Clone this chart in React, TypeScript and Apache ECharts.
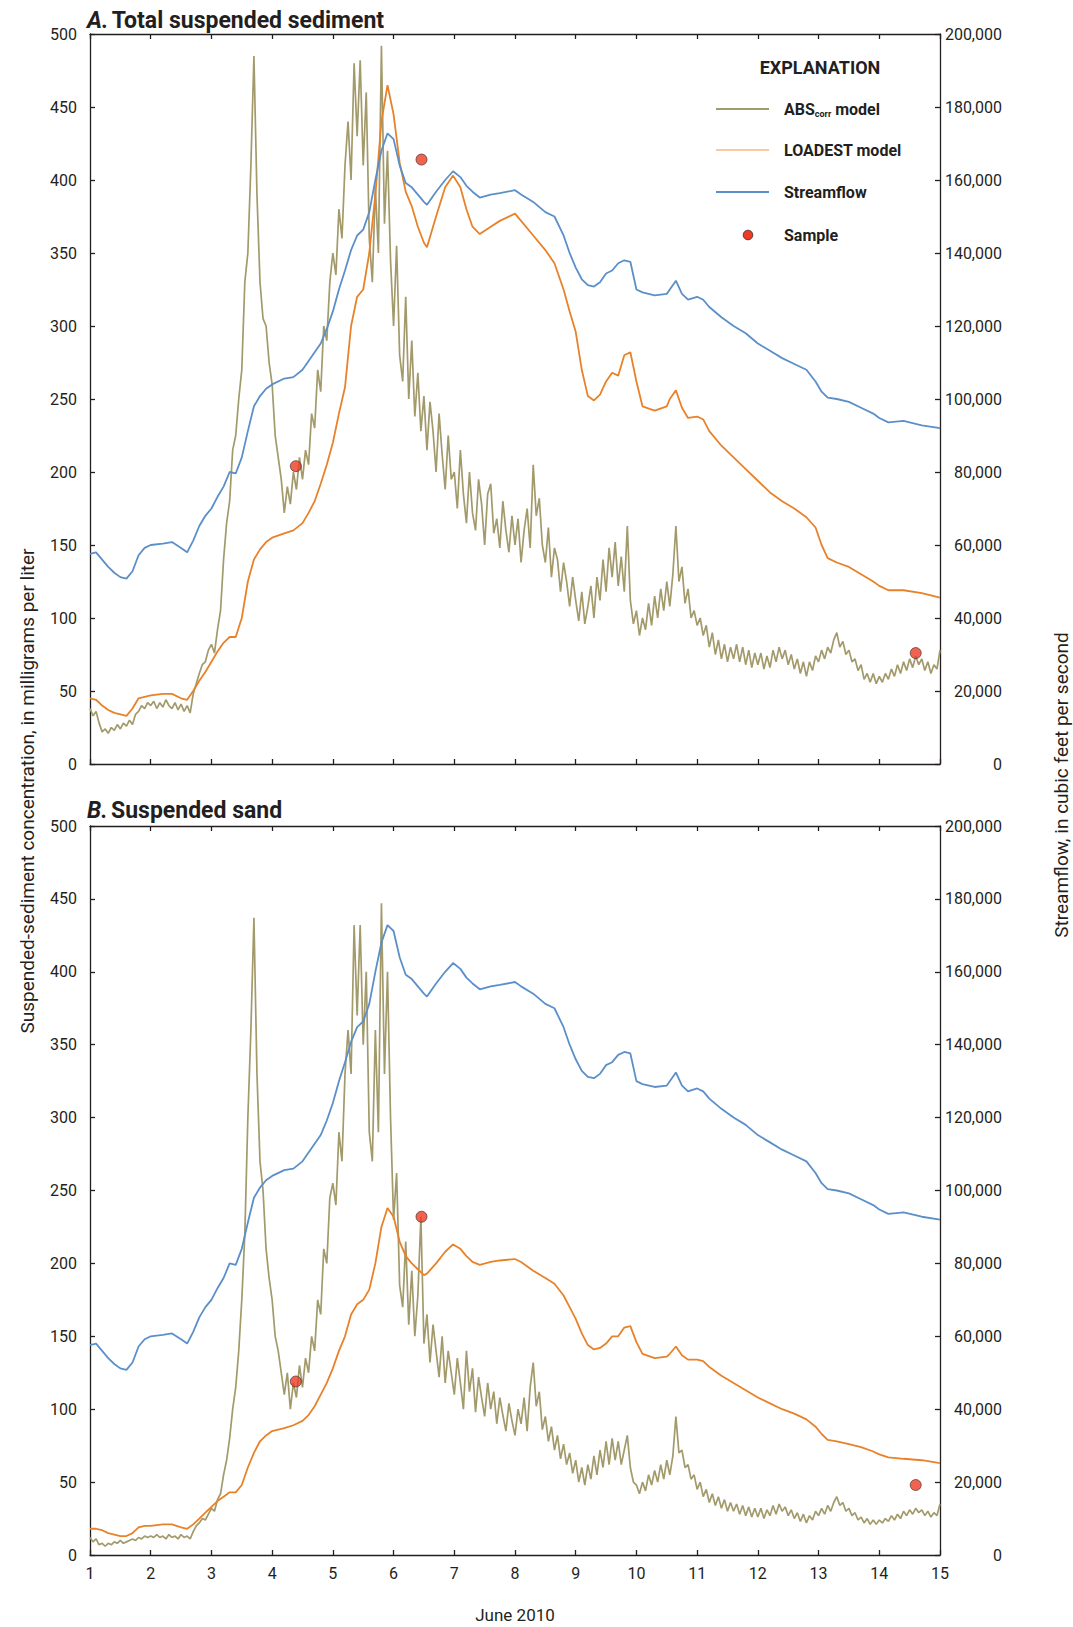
import React, { useEffect, useRef } from "react";
import * as echarts from "echarts";

const FONT = "Roboto, 'Liberation Sans', sans-serif";
const INK = "#231f20";
const C_ABS = "#a39a6b";
const C_LOAD = "#e8822a";
const C_LOAD_LEG = "#f9c9a3";
const C_FLOW = "#5b8fc9";
const C_SAMPLE = "#ee3b24";

// x tick labels (days of June 2010)
const dayTicks = [1, 2, 3, 4, 5, 6, 7, 8, 9, 10, 11, 12, 13, 14, 15];

// ABScorr model readings, every 0.05 day starting June 1
const absStartDay = 1;
const absStepDays = 0.05;

const absTotal = [
  38, 33, 36, 28, 22, 24, 21, 25, 23, 27, 24, 28, 26, 30, 27, 34, 36, 40, 38, 42,
  40, 43, 38, 42, 39, 44, 40, 38, 42, 37, 41, 36, 40, 35, 48, 55, 62, 68, 70, 78,
  82, 76, 92, 105, 140, 165, 180, 215, 225, 250, 270, 330, 350, 410, 485, 390, 330, 305, 300, 275,
  260, 225, 210, 195, 172, 190, 178, 200, 188, 210, 195, 215, 205, 240, 230, 270, 255, 300, 290, 330,
  350, 335, 380, 360, 410, 440, 400, 480, 430, 482, 410, 460, 360, 330, 395, 350, 492, 370, 420, 345,
  300, 355, 280, 262, 320, 250, 290, 238, 268, 228, 252, 215, 248, 228, 200, 240, 212, 188, 225, 195,
  200, 175, 215, 185, 165, 200, 172, 160, 195, 178, 150, 185, 192, 158, 168, 148, 180, 160, 145, 170,
  150, 168, 138, 160, 175, 148, 205, 170, 182, 150, 138, 162, 128, 148, 140, 118, 138, 125, 108, 128,
  112, 98, 118, 96, 108, 122, 100, 128, 112, 140, 118, 148, 128, 152, 122, 142, 118, 163, 112, 96,
  105, 88, 100, 92, 110, 95, 115, 100, 120, 105, 125, 108, 130, 163, 125, 135, 110, 120, 100, 105,
  95, 100, 88, 95, 80, 90, 75, 85, 72, 82, 70, 80, 72, 82, 70, 80, 68, 78, 66, 76,
  68, 76, 65, 74, 66, 78, 70, 80, 72, 78, 68, 75, 65, 72, 62, 70, 60, 70, 64, 74,
  70, 78, 72, 80, 76, 85, 90, 80, 84, 75, 78, 70, 72, 64, 68, 58, 62, 56, 62, 55,
  60, 56, 62, 58, 65, 60, 68, 62, 70, 64, 72, 66, 74, 68, 72, 64, 70, 62, 68, 65,
  78,
];

const absSand = [
  12, 9, 11, 7, 8, 6, 8, 7, 9, 8, 10, 8, 9, 10, 11, 10, 12, 11, 13, 12,
  13, 12, 14, 12, 13, 11, 14, 12, 13, 11, 14, 12, 13, 11, 16, 20, 22, 25, 24, 28,
  32, 30, 38, 42, 55, 65, 80, 100, 115, 140, 175, 220, 300, 360, 437, 330, 270, 250, 210, 190,
  175, 150, 140, 125, 110, 125, 100, 118, 108, 130, 115, 135, 125, 150, 140, 175, 165, 210, 200, 245,
  255, 240, 290, 270, 330, 360, 330, 432, 370, 432, 350, 400, 290, 270, 360, 290, 447, 330, 400, 300,
  230, 262, 185, 170, 215, 158, 195, 150, 178, 232, 145, 165, 132, 158, 140, 122, 150, 118, 140, 125,
  110, 135, 118, 100, 140, 112, 128, 98, 122, 108, 95, 118, 100, 112, 90, 108, 96, 85, 104, 92,
  82, 100, 90, 108, 85, 115, 132, 102, 112, 86, 95, 78, 88, 72, 82, 66, 76, 62, 70, 56,
  65, 50, 60, 48, 62, 52, 68, 55, 72, 60, 78, 62, 80, 65, 78, 62, 72, 82, 60, 50,
  48, 42, 50, 44, 55, 48, 58, 50, 62, 52, 65, 55, 68, 95, 70, 72, 60, 62, 52, 55,
  45, 50, 40, 45, 36, 42, 34, 40, 32, 38, 30, 36, 30, 35, 28, 34, 27, 33, 26, 32,
  26, 32, 25, 31, 27, 34, 28, 35, 30, 33, 27, 31, 25, 29, 23, 28, 22, 27, 24, 30,
  27, 32, 28, 34, 30, 36, 40, 34, 36, 30, 32, 27, 29, 24, 26, 22, 25, 21, 24, 21,
  24, 22, 25, 23, 27, 24, 28, 25, 30, 27, 31, 28, 32, 29, 31, 27, 30, 26, 29, 27,
  35,
];

// Days at which the smoother LOADEST and streamflow curves were read
const modelDays = [
  1.0, 1.1, 1.2, 1.3, 1.4, 1.5, 1.6, 1.7, 1.8, 1.9,
  2.0, 2.2, 2.35, 2.5, 2.6, 2.7, 2.8, 2.9,
  3.0, 3.1, 3.2, 3.3, 3.4, 3.5, 3.6, 3.7, 3.8, 3.9,
  4.0, 4.2, 4.35, 4.5, 4.6, 4.7, 4.8, 4.9,
  5.0, 5.1, 5.2, 5.3, 5.4, 5.5, 5.6, 5.7, 5.8, 5.9,
  6.0, 6.1, 6.2, 6.3, 6.4, 6.5, 6.55, 6.7, 6.85, 6.98,
  7.1, 7.2, 7.3, 7.42, 7.6, 7.75,
  8.0, 8.1, 8.3, 8.5, 8.65, 8.8, 8.9,
  9.0, 9.1, 9.2, 9.3, 9.4, 9.5, 9.6, 9.7, 9.8, 9.9,
  10.0, 10.1, 10.3, 10.5, 10.55, 10.65, 10.75, 10.85,
  11.0, 11.1, 11.2, 11.4, 11.6, 11.8,
  12.0, 12.2, 12.4, 12.6, 12.8, 12.95,
  13.05, 13.15, 13.3, 13.5, 13.7, 13.9,
  14.0, 14.15, 14.4, 14.7, 15.0,
];

const streamflow = [
  57600, 58000, 56000, 54000, 52400, 51200, 50800, 52800, 57200, 59200,
  60000, 60400, 60800, 59200, 58000, 61200, 65200, 68000,
  70000, 73200, 76000, 80000, 79600, 84000, 91200, 98000, 100800, 102800,
  104000, 105600, 106000, 108000, 110400, 112800, 115200, 119200,
  124000, 130000, 135200, 140800, 144800, 146400, 151200, 160000, 168000, 172800,
  171200, 164000, 159200, 158000, 156000, 154000, 153200, 156800, 160000, 162400,
  160800, 158400, 156800, 155200, 156000, 156400,
  157200, 156000, 154000, 151200, 150000, 144800, 140000,
  136000, 132800, 131200, 130800, 132000, 134400, 135200, 137200, 138000, 137600,
  130000, 129200, 128400, 128800, 130000, 132400, 128800, 127200,
  128000, 127200, 125200, 122400, 120000, 118000,
  115200, 113200, 111200, 109600, 108000, 104800,
  102000, 100400, 100000, 99200, 97600, 96000,
  94800, 93600, 94000, 92800, 92000,
];

const loadestTotal = [
  45, 44, 40, 37, 35, 34, 33, 38, 45, 46,
  47, 48, 48, 45, 44, 50, 57, 63,
  70, 77, 83, 87, 87, 100, 125, 140, 147, 152,
  155, 158, 160, 165, 172, 180, 192, 205,
  220, 240, 258, 300, 320, 325, 350, 390, 440, 465,
  445, 412, 392, 382, 368, 357, 354, 375, 395, 403,
  395, 380, 368, 363, 368, 372,
  377, 372, 362, 352, 343, 325, 310,
  296, 270, 252, 249, 253, 262, 268, 266, 280, 282,
  262, 245, 242, 245, 250, 256, 244, 237,
  238, 236, 228, 218, 210, 202,
  194, 186, 180, 175, 169, 162,
  150, 141, 138, 135, 130, 125,
  122, 119, 119, 117, 114,
];

const loadestSand = [
  18, 18, 17, 15, 14, 13, 13, 15, 19, 20,
  20, 21, 21, 19, 18, 21, 25, 29,
  33, 37, 40, 43, 43, 48, 60, 70, 78, 82,
  85, 87, 89, 92, 96, 102, 110, 118,
  128, 140, 150, 165, 172, 175, 182, 200, 225, 238,
  232, 215, 205, 200, 196, 192, 193, 200, 208, 213,
  210, 205, 201, 199, 201, 202,
  203, 201, 195, 190, 186, 178, 170,
  162, 152, 144, 141, 142, 145, 150, 150, 156, 157,
  146, 138, 135, 136, 138, 143, 137, 134,
  134, 133, 129, 123, 118, 113,
  108, 104, 100, 97, 93, 88,
  83, 79, 78, 76, 74, 71,
  69, 67, 66, 65, 63,
];

const sampleDays = [4.39, 6.46, 14.6];
const sampleTotal = [204, 414, 76];
const sampleSand = [119, 232, 48];

const pairs = (xs: number[], ys: number[]) => ys.map((y, i) => [xs[i], y]);
const absPairs = (ys: number[]) => ys.map((y, i) => [absStartDay + i * absStepDays, y]);

const GRID_LEFT = 90;
const GRID_W = 850;
const GRIDS = [
  { left: GRID_LEFT, top: 34, width: GRID_W, height: 730 },
  { left: GRID_LEFT, top: 826, width: GRID_W, height: 729 },
];

const lineStyle = { color: INK, width: 1.3 };

function xAxis(gridIndex: number, position: "top" | "bottom", labels: boolean) {
  return {
    type: "value",
    gridIndex,
    position,
    min: 1,
    max: 15,
    interval: 1,
    axisLine: { show: true, onZero: false, lineStyle },
    axisTick: { show: true, inside: true, length: 5, lineStyle },
    splitLine: { show: false },
    axisLabel: {
      show: labels,
      margin: 10,
      fontFamily: FONT,
      fontSize: 16,
      color: INK,
      formatter: (v: number) => (dayTicks.includes(v) ? String(v) : ""),
    },
  };
}

function yLeft(gridIndex: number) {
  return {
    type: "value",
    gridIndex,
    position: "left",
    min: 0,
    max: 500,
    interval: 50,
    axisLine: { show: true, lineStyle },
    axisTick: { show: true, inside: true, length: 5, lineStyle },
    splitLine: { show: false },
    axisLabel: { margin: 13, fontFamily: FONT, fontSize: 16, color: INK },
  };
}

function yRight(gridIndex: number) {
  return {
    type: "value",
    gridIndex,
    position: "right",
    min: 0,
    max: 200000,
    interval: 20000,
    axisLine: { show: true, lineStyle },
    axisTick: { show: true, inside: true, length: 5, lineStyle },
    splitLine: { show: false },
    axisLabel: {
      margin: 62,
      align: "right",
      fontFamily: FONT,
      fontSize: 16,
      color: INK,
      formatter: (v: number) => v.toLocaleString("en-US"),
    },
  };
}

function panelSeries(p: number, abs: number[], loadest: number[], samples: number[]) {
  const xi = p * 2;
  const yl = p * 2;
  const yr = p * 2 + 1;
  return [
    {
      type: "line",
      name: "ABScorr model",
      xAxisIndex: xi,
      yAxisIndex: yl,
      data: absPairs(abs),
      showSymbol: false,
      lineStyle: { color: C_ABS, width: 1.7 },
      itemStyle: { color: C_ABS },
      z: 2,
    },
    {
      type: "line",
      name: "LOADEST model",
      xAxisIndex: xi,
      yAxisIndex: yl,
      data: pairs(modelDays, loadest),
      showSymbol: false,
      lineStyle: { color: C_LOAD, width: 1.8 },
      itemStyle: { color: C_LOAD },
      z: 3,
    },
    {
      type: "line",
      name: "Streamflow",
      xAxisIndex: xi,
      yAxisIndex: yr,
      data: pairs(modelDays, streamflow),
      showSymbol: false,
      lineStyle: { color: C_FLOW, width: 1.8 },
      itemStyle: { color: C_FLOW },
      z: 4,
    },
    {
      type: "scatter",
      name: "Sample",
      xAxisIndex: xi,
      yAxisIndex: yl,
      data: pairs(sampleDays, samples),
      symbol: "circle",
      symbolSize: 11,
      itemStyle: { color: C_SAMPLE, borderColor: "#3a2a26", borderWidth: 0.8 },
      z: 5,
    },
  ];
}

const boldText = (x: number, y: number, text: string, size = 16, align = "left") => ({
  type: "text",
  x,
  y,
  style: {
    text,
    fill: INK,
    fontFamily: FONT,
    fontSize: size,
    fontWeight: "bold",
    align,
    verticalAlign: "middle",
  },
});

const legendLine = (y: number, color: string) => ({
  type: "line",
  shape: { x1: 716, y1: y, x2: 769, y2: y },
  style: { stroke: color, lineWidth: 2 },
});

const titleRich = {
  i: { fontFamily: FONT, fontSize: 23, fontWeight: "bold", fontStyle: "italic", fill: INK },
  b: { fontFamily: FONT, fontSize: 23, fontWeight: "bold", fill: INK },
};

const option = {
  animation: false,
  backgroundColor: "#ffffff",
  grid: GRIDS,
  xAxis: [
    xAxis(0, "bottom", false),
    xAxis(0, "top", false),
    xAxis(1, "bottom", true),
    xAxis(1, "top", false),
  ],
  yAxis: [yLeft(0), yRight(0), yLeft(1), yRight(1)],
  series: [
    ...panelSeries(0, absTotal, loadestTotal, sampleTotal),
    ...panelSeries(1, absSand, loadestSand, sampleSand),
  ],
  graphic: [
    {
      type: "text",
      x: 87,
      y: 20,
      style: { text: "{i|A.} {b|Total suspended sediment}", verticalAlign: "middle", rich: titleRich },
    },
    {
      type: "text",
      x: 87,
      y: 810,
      style: { text: "{i|B.} {b|Suspended sand}", verticalAlign: "middle", rich: titleRich },
    },
    {
      type: "text",
      x: 27,
      y: 791,
      rotation: Math.PI / 2,
      style: {
        text: "Suspended-sediment concentration, in milligrams per liter",
        fill: INK,
        fontFamily: FONT,
        fontSize: 19,
        align: "center",
        verticalAlign: "middle",
      },
    },
    {
      type: "text",
      x: 1061,
      y: 785,
      rotation: Math.PI / 2,
      style: {
        text: "Streamflow, in cubic feet per second",
        fill: INK,
        fontFamily: FONT,
        fontSize: 19,
        align: "center",
        verticalAlign: "middle",
      },
    },
    {
      type: "text",
      x: 515,
      y: 1615,
      style: {
        text: "June 2010",
        fill: INK,
        fontFamily: FONT,
        fontSize: 17,
        align: "center",
        verticalAlign: "middle",
      },
    },
    boldText(820, 67, "EXPLANATION", 18, "center"),
    legendLine(109, C_ABS),
    legendLine(150, C_LOAD_LEG),
    legendLine(192, C_FLOW),
    {
      type: "circle",
      shape: { cx: 748, cy: 235, r: 4.8 },
      style: { fill: C_SAMPLE, stroke: "#3a2a26", lineWidth: 0.8 },
    },
    {
      type: "text",
      x: 784,
      y: 109,
      style: {
        text: "{a|ABS}{s|corr}{a| model}",
        verticalAlign: "middle",
        rich: {
          a: { fontFamily: FONT, fontSize: 16, fontWeight: "bold", fill: INK },
          s: { fontFamily: FONT, fontSize: 9, fontWeight: "bold", fill: INK, padding: [9, 0, 0, 0] },
        },
      },
    },
    boldText(784, 150, "LOADEST model"),
    boldText(784, 192, "Streamflow"),
    boldText(784, 235, "Sample"),
  ],
};

export default function App() {
  const ref = useRef<HTMLDivElement>(null);
  useEffect(() => {
    document.body.style.margin = "0";
    const chart = echarts.init(ref.current as HTMLDivElement, null, { renderer: "svg" });
    chart.setOption(option as any);
    return () => chart.dispose();
  }, []);
  return <div ref={ref} style={{ width: 1073, height: 1627 }} />;
}
